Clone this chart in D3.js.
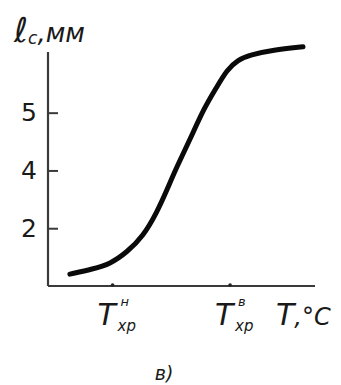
<!DOCTYPE html>
<html>
<head>
<meta charset="utf-8">
<script src="https://cdn.jsdelivr.net/npm/d3@7"></script>
<style>
  html, body { margin: 0; padding: 0; background: #fff; }
  svg { display: block; }
  text { font-family: "DejaVu Sans", sans-serif; fill: #1a1a1a; }
</style>
</head>
<body>
<svg id="chart" width="341" height="385"></svg>
<script>
// ---- data ----
const temperature = [8.2, 16.9, 23.2, 29.6, 35.6, 40.8, 44.6, 48.3, 53.2, 58.1, 63.3, 67.0, 71.2, 75.7, 84.3, 95.5];
const lengthMM    = [0.41, 0.59, 0.76, 1.17, 1.72, 2.55, 3.34, 4.14, 5.07, 6.10, 6.90, 7.48, 7.83, 8.00, 8.17, 8.28];
const yTickValues = [2, 4, 6];
const yTickLabels = ["2", "4", "5"];
const xTickValues = [24, 68];
const xTickSup    = ["н", "в"];
const xTickSub    = ["хр", "хр"];

// ---- scales ----
const svg = d3.select("#chart");
const x = d3.scaleLinear().domain([0, 100]).range([48, 315]);
const y = d3.scaleLinear().domain([0, 8.1]).range([286, 52]);

// ---- y axis ----
const yAxis = d3.axisLeft(y)
  .tickValues(yTickValues)
  .tickSize(-10)
  .tickPadding(14)
  .tickFormat((d, i) => yTickLabels[i]);
const gy = svg.append("g").attr("transform", `translate(${x(0)},0)`).call(yAxis);
gy.select(".domain").attr("d", `M0,${y(0)}V${y(8.1)}`).attr("stroke", "#3a3a3a").attr("stroke-width", 2.2);
gy.selectAll(".tick line").attr("stroke", "#3a3a3a").attr("stroke-width", 2);
gy.selectAll(".tick text")
  .attr("font-size", 25).attr("font-family", "DejaVu Sans").attr("fill", "#1a1a1a")
  .attr("x", -19).attr("text-anchor", "middle");

// ---- x axis ----
const xAxis = d3.axisBottom(x).tickValues(xTickValues).tickSize(0).tickFormat("");
const gx = svg.append("g").attr("transform", `translate(0,${y(0)})`).call(xAxis);
gx.select(".domain").attr("d", `M${x(0)},0H${x(100)}`).attr("stroke", "#3a3a3a").attr("stroke-width", 2.2);
gx.selectAll(".tick").append("circle").attr("r", 1.8).attr("cy", -1).attr("fill", "#222");
gx.selectAll(".tick").each(function(d, i) {
  const g = d3.select(this);
  g.append("text").attr("x", -6).attr("y", 39).attr("text-anchor", "middle")
    .attr("font-size", 30).attr("font-style", "italic").text("T");
  g.append("text").attr("x", 8).attr("y", 20).attr("text-anchor", "start")
    .attr("font-size", 13).attr("font-style", "italic").text(xTickSup[i]);
  g.append("text").attr("x", 5).attr("y", 45).attr("text-anchor", "start")
    .attr("font-size", 15).attr("font-style", "italic").text(xTickSub[i]);
});

// x axis title
const xt = svg.append("text").attr("x", 276).attr("y", y(0) + 39)
  .attr("font-size", 30).attr("font-style", "italic");
xt.append("tspan").text("T");
xt.append("tspan").attr("font-size", 24).text(",°C");

// y axis title
const yt = svg.append("text").attr("x", 14).attr("y", 42).attr("font-size", 26).attr("font-style", "italic");
yt.append("tspan").attr("font-size", 34).text("ℓ");
yt.append("tspan").attr("font-size", 17).attr("dy", 2).text("с");
yt.append("tspan").attr("dy", -2).text(",мм");

// caption
svg.append("text").attr("x", 164).attr("y", 380).attr("text-anchor", "middle")
  .attr("font-size", 19).attr("font-style", "italic").text("в)");

// ---- curve ----
const pts = temperature.map((t, i) => [t, lengthMM[i]]);
const line = d3.line().x(d => x(d[0])).y(d => y(d[1])).curve(d3.curveBasis);
svg.append("path").datum(pts).attr("d", line)
  .attr("fill", "none").attr("stroke", "#0a0a0a").attr("stroke-width", 5)
  .attr("stroke-linecap", "round").attr("stroke-linejoin", "round");
</script>
</body>
</html>
